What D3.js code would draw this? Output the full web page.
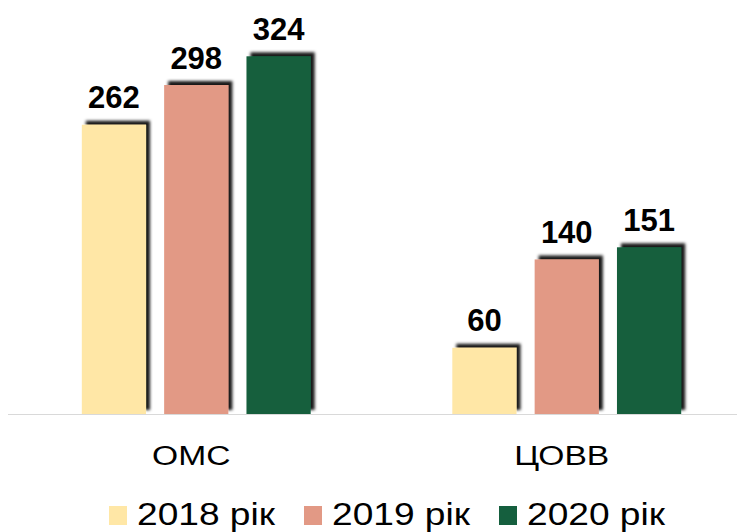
<!DOCTYPE html>
<html>
<meta charset="utf-8">
<script src="https://d3js.org/d3.v7.min.js"></script>
<style>
body {
  margin: 0;
  background: #fff;
  font-family: "Liberation Sans", Arial, sans-serif;
}
.axis-line {
  stroke: #d9d9d9;
  stroke-width: 1;
  shape-rendering: crispEdges;
}
</style>
<body>
<script>
// chart data
var categories = ["ОМС", "ЦОВВ"];
var seriesNames = ["2018 рік", "2019 рік", "2020 рік"];
var values2018 = [262, 60];
var values2019 = [298, 140];
var values2020 = [324, 151];
var seriesColors = ["#ffe7a6", "#e29985", "#155f3e"];

var allValues = [values2018, values2019, values2020];

var width = 737, height = 532;

var svg = d3.select("body").append("svg")
    .attr("width", width)
    .attr("height", height);

// drop shadow for the bars (up and to the right)
var defs = svg.append("defs");
var filter = defs.append("filter")
    .attr("id", "shadow")
    .attr("x", "-20%").attr("y", "-20%")
    .attr("width", "140%").attr("height", "140%");
filter.append("feDropShadow")
    .attr("dx", 4)
    .attr("dy", -4)
    .attr("stdDeviation", 1.6)
    .attr("flood-color", "#000")
    .attr("flood-opacity", 0.9);

var x0 = d3.scaleBand().domain(categories).range([11, 752]).padding(0);
var x1 = d3.scaleBand().domain(seriesNames).range([0, x0.bandwidth()])
    .paddingInner(0.22).paddingOuter(0.86);
var y = d3.scaleLinear().domain([0, 375]).range([414, 0]);

// baseline
svg.append("line")
    .attr("class", "axis-line")
    .attr("x1", 8).attr("x2", width)
    .attr("y1", y(0)).attr("y2", y(0));

// bars
var groups = svg.selectAll(".group")
    .data(categories)
    .enter().append("g")
    .attr("class", "group")
    .attr("transform", function(d) { return "translate(" + x0(d) + ",0)"; });

groups.selectAll("rect")
    .data(function(d, i) {
      return seriesNames.map(function(s, j) {
        return {cat: d, series: s, value: allValues[j][i], color: seriesColors[j]};
      });
    })
    .enter().append("rect")
    .attr("x", function(d) { return x1(d.series); })
    .attr("y", function(d) { return y(d.value); })
    .attr("width", x1.bandwidth())
    .attr("height", function(d) { return y(0) - y(d.value); })
    .attr("fill", function(d) { return d.color; })
    .attr("filter", "url(#shadow)");

// value labels
groups.selectAll(".val")
    .data(function(d, i) {
      return seriesNames.map(function(s, j) {
        return {series: s, value: allValues[j][i]};
      });
    })
    .enter().append("text")
    .attr("class", "val")
    .attr("x", function(d) { return x1(d.series) + x1.bandwidth() / 2; })
    .attr("y", function(d) { return y(d.value) - 16.5; })
    .attr("text-anchor", "middle")
    .attr("font-weight", "bold")
    .attr("font-size", "31px")
    .attr("fill", "#000")
    .text(function(d) { return d.value; });

// category labels (slightly stretched like the original)
svg.selectAll(".cat")
    .data(categories)
    .enter().append("text")
    .attr("class", "cat")
    .attr("transform", function(d) {
      return "translate(" + (x0(d) + x0.bandwidth() / 2 - 5) + ",465) scale(1.2,1)";
    })
    .attr("text-anchor", "middle")
    .attr("font-size", "28px")
    .attr("fill", "#000")
    .text(function(d) { return d; });

// legend
var legend = svg.selectAll(".legend")
    .data(seriesNames)
    .enter().append("g")
    .attr("class", "legend")
    .attr("transform", function(d, i) { return "translate(" + (109 + i * 195) + ",0)"; });

legend.append("rect")
    .attr("x", 0).attr("y", 506)
    .attr("width", 18).attr("height", 19)
    .attr("fill", function(d, i) { return seriesColors[i]; });

legend.append("text")
    .attr("transform", "translate(28,525) scale(1.16,1)")
    .attr("font-size", "32px")
    .attr("fill", "#000")
    .text(function(d) { return d; });
</script>
</body>
</html>
